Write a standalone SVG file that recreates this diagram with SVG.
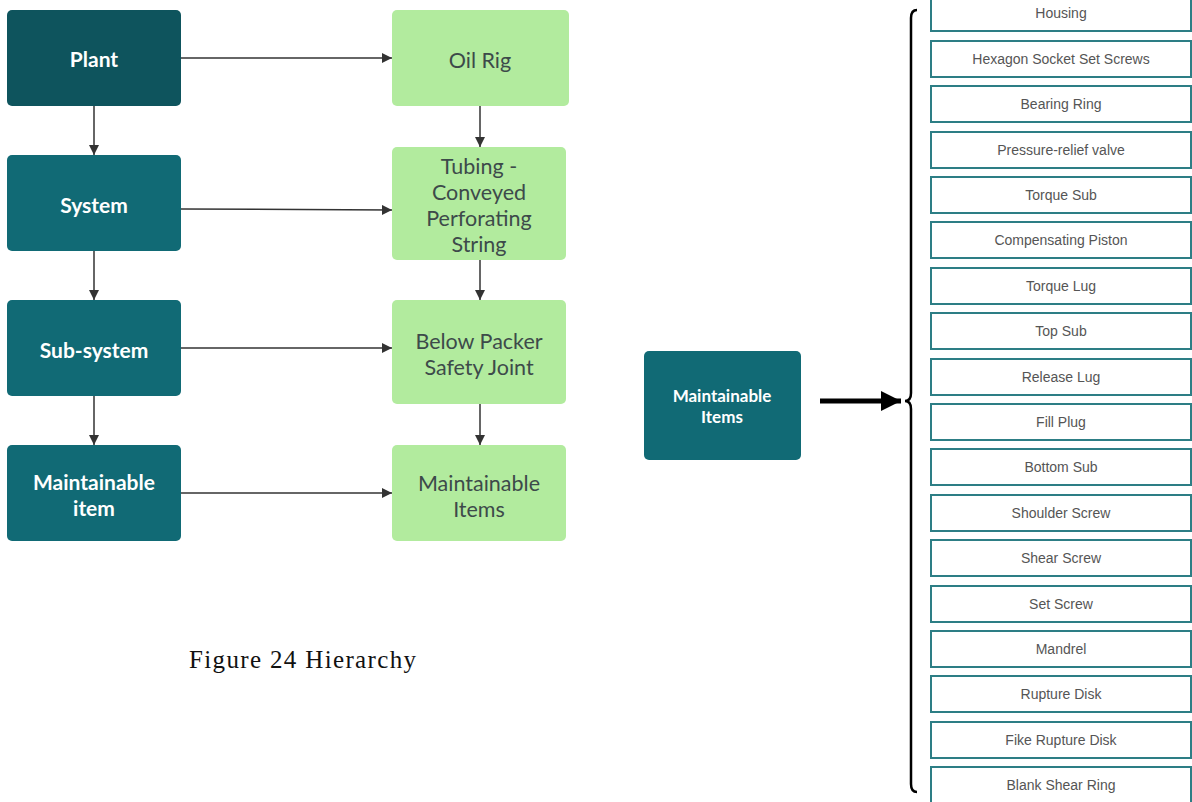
<svg xmlns="http://www.w3.org/2000/svg" width="1192" height="802" viewBox="0 0 1192 802">
<style>
.dk{fill:#0e545d}
.tl{fill:#116a75}
.gr{fill:#b2eb9e}
.wt{font-family:Lato,"Open Sans",sans-serif;font-weight:bold;font-size:21px;fill:#ffffff;text-anchor:middle}
.gt{font-family:Lato,"Open Sans",sans-serif;font-size:21.5px;fill:#3d4a4a;text-anchor:middle}
.li rect{fill:#ffffff;stroke:#2d7e85;stroke-width:2}
.li text{font-family:"Liberation Sans",Arial,sans-serif;font-size:14px;fill:#555555;text-anchor:middle}
.cn{stroke:#333333;stroke-width:1.5;fill:none}
</style>
<defs>
<marker id="ah" viewBox="0 0 10 10" refX="10" refY="5" markerWidth="10" markerHeight="10" markerUnits="userSpaceOnUse" orient="auto">
<path d="M0,0 L10,5 L0,10 z" fill="#333333"/>
</marker>
<marker id="ahb" viewBox="0 0 10 10" refX="10" refY="5" markerWidth="4" markerHeight="4" orient="auto">
<path d="M0,0 L10,5 L0,10 z" fill="#000000"/>
</marker>
</defs>
<rect width="1192" height="802" fill="#ffffff"/>
<g id="plant"><rect class="dk" x="7" y="10" width="174" height="96" rx="5"/><text class="wt" x="94" y="67">Plant</text></g>
<g id="system"><rect class="tl" x="7" y="155" width="174" height="96" rx="5"/><text class="wt" x="94" y="213">System</text></g>
<g id="subsystem"><rect class="tl" x="7" y="300" width="174" height="96" rx="5"/><text class="wt" x="94" y="358">Sub-system</text></g>
<g id="mitem"><rect class="tl" x="7" y="445" width="174" height="96" rx="5"/><text class="wt" x="94" y="490">Maintainable</text><text class="wt" x="94" y="516">item</text></g>
<g id="oilrig"><rect class="gr" x="392" y="10" width="177" height="96" rx="5"/><text class="gt" x="480" y="68">Oil Rig</text></g>
<g id="tubing"><rect class="gr" x="392" y="147" width="174" height="113" rx="5"/><text class="gt" x="479" y="174">Tubing -</text><text class="gt" x="479" y="200">Conveyed</text><text class="gt" x="479" y="226">Perforating</text><text class="gt" x="479" y="252">String</text></g>
<g id="packer"><rect class="gr" x="392" y="300" width="174" height="104" rx="5"/><text class="gt" x="479" y="349">Below Packer</text><text class="gt" x="479" y="375">Safety Joint</text></g>
<g id="mitems"><rect class="gr" x="392" y="445" width="174" height="96" rx="5"/><text class="gt" x="479" y="491">Maintainable</text><text class="gt" x="479" y="517">Items</text></g>
<g id="mitems2"><rect class="tl" x="644" y="351" width="157" height="109" rx="5"/><text class="wt" style="font-size:17px" x="722" y="402">Maintainable</text><text class="wt" style="font-size:17px" x="722" y="423">Items</text></g>
<g id="connectors">
<path class="cn" d="M181,58 H392" marker-end="url(#ah)"/>
<path class="cn" d="M181,209 L392,210" marker-end="url(#ah)"/>
<path class="cn" d="M181,348 H392" marker-end="url(#ah)"/>
<path class="cn" d="M181,493 H392" marker-end="url(#ah)"/>
<path class="cn" d="M94,106 V155" marker-end="url(#ah)"/>
<path class="cn" d="M94,251 V300" marker-end="url(#ah)"/>
<path class="cn" d="M94,396 V445" marker-end="url(#ah)"/>
<path class="cn" d="M480,106 V147" marker-end="url(#ah)"/>
<path class="cn" d="M480,260 V300" marker-end="url(#ah)"/>
<path class="cn" d="M480,404 V445" marker-end="url(#ah)"/>
<path d="M820,401 H901" stroke="#000" stroke-width="5" fill="none" marker-end="url(#ahb)"/>
<path d="M917,10 Q911,10 911,18 V393 Q911,401 905,401 Q911,401 911,409 V784 Q911,792 917,792" stroke="#000" stroke-width="2.5" fill="none"/>
</g>
<g id="list" class="li">
<g id="i1"><rect x="931" y="-5" width="260" height="36"/><text x="1061" y="18">Housing</text></g>
<g id="i2"><rect x="931" y="41" width="260" height="36"/><text x="1061" y="64">Hexagon Socket Set Screws</text></g>
<g id="i3"><rect x="931" y="86" width="260" height="36"/><text x="1061" y="109">Bearing Ring</text></g>
<g id="i4"><rect x="931" y="132" width="260" height="36"/><text x="1061" y="155">Pressure-relief valve</text></g>
<g id="i5"><rect x="931" y="177" width="260" height="36"/><text x="1061" y="200">Torque Sub</text></g>
<g id="i6"><rect x="931" y="222" width="260" height="36"/><text x="1061" y="245">Compensating Piston</text></g>
<g id="i7"><rect x="931" y="268" width="260" height="36"/><text x="1061" y="291">Torque Lug</text></g>
<g id="i8"><rect x="931" y="313" width="260" height="36"/><text x="1061" y="336">Top Sub</text></g>
<g id="i9"><rect x="931" y="359" width="260" height="36"/><text x="1061" y="382">Release Lug</text></g>
<g id="i10"><rect x="931" y="404" width="260" height="36"/><text x="1061" y="427">Fill Plug</text></g>
<g id="i11"><rect x="931" y="449" width="260" height="36"/><text x="1061" y="472">Bottom Sub</text></g>
<g id="i12"><rect x="931" y="495" width="260" height="36"/><text x="1061" y="518">Shoulder Screw</text></g>
<g id="i13"><rect x="931" y="540" width="260" height="36"/><text x="1061" y="563">Shear Screw</text></g>
<g id="i14"><rect x="931" y="586" width="260" height="36"/><text x="1061" y="609">Set Screw</text></g>
<g id="i15"><rect x="931" y="631" width="260" height="36"/><text x="1061" y="654">Mandrel</text></g>
<g id="i16"><rect x="931" y="676" width="260" height="36"/><text x="1061" y="699">Rupture Disk</text></g>
<g id="i17"><rect x="931" y="722" width="260" height="36"/><text x="1061" y="745">Fike Rupture Disk</text></g>
<g id="i18"><rect x="931" y="767" width="260" height="40"/><text x="1061" y="790">Blank Shear Ring</text></g>
</g>
<text x="189" y="668" font-family="'Liberation Serif','DejaVu Serif',serif" font-size="25" textLength="227" lengthAdjust="spacing" fill="#111111">Figure 24 Hierarchy</text>
</svg>
